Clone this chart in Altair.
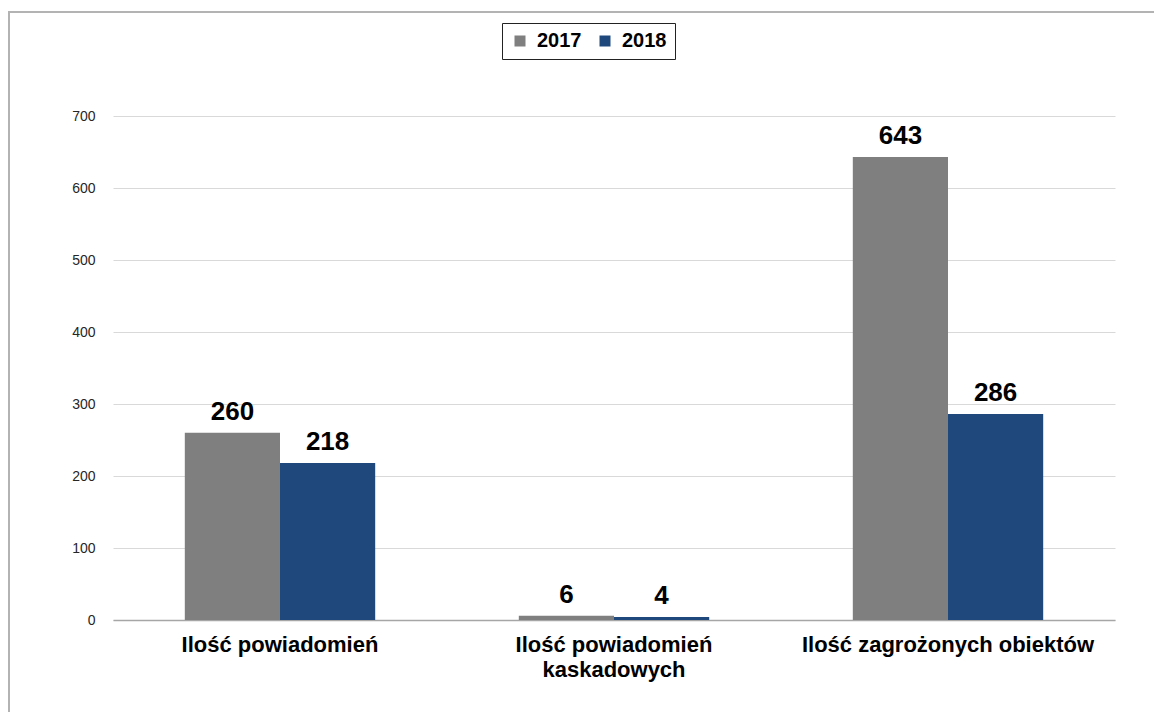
import altair as alt
import pandas as pd

categories = ["Ilość powiadomień", "Ilość powiadomień kaskadowych", "Ilość zagrożonych obiektów"]
years = ["2017", "2018"]
values_2017 = [260, 6, 643]
values_2018 = [218, 4, 286]
colors = ["#7f7f7f", "#1f497d"]
y_ticks = [0, 100, 200, 300, 400, 500, 600, 700]

rows = []
for c, a, b in zip(categories, values_2017, values_2018):
    rows.append({"category": c, "year": "2017", "value": a})
    rows.append({"category": c, "year": "2018", "value": b})
df = pd.DataFrame(rows)

W, H = 1002, 504
PAD = {"left": 105, "top": 108, "right": 39, "bottom": 92}
FONT = "Liberation Sans"

label_expr = ("datum.label == 'Ilość powiadomień kaskadowych' ? "
              "['Ilość powiadomień', 'kaskadowych'] : datum.label")

x_enc = alt.X(
    "category:N", sort=categories, title=None,
    scale=alt.Scale(paddingInner=0.43, paddingOuter=0.215),
    axis=alt.Axis(labelAngle=0, labelFont=FONT, labelFontSize=22, labelFontWeight="bold",
                  labelColor="#000000", labelPadding=14, labelLineHeight=25,
                  ticks=False, domainColor="#a6a6a6", domainWidth=1.5,
                  labelExpr=label_expr, labelLimit=400),
)
y_enc = alt.Y(
    "value:Q", title=None,
    scale=alt.Scale(domain=[0, 700], nice=False),
    axis=alt.Axis(values=y_ticks, domain=False, ticks=False, labelFont=FONT,
                  labelFontSize=14, labelColor="#262626", labelPadding=18,
                  gridColor="#d9d9d9", gridWidth=1),
)
color_enc = alt.Color(
    "year:N", title=None,
    scale=alt.Scale(domain=years, range=colors),
    legend=alt.Legend(orient="none", legendX=389, legendY=-93, direction="horizontal",
                      columns=2, symbolType="square", symbolSize=121,
                      symbolStrokeWidth=0, labelFont=FONT, labelFontSize=20,
                      labelFontWeight="bold", labelColor="#000000", labelOffset=7,
                      columnPadding=13, padding=8, strokeColor="#222222",
                      fillColor="#ffffff"),
)

bars = alt.Chart(df).mark_bar().encode(
    x=x_enc, y=y_enc, color=color_enc,
    xOffset=alt.XOffset("year:N", sort=years),
)

labels = alt.Chart(df).mark_text(
    font=FONT, fontSize=26, fontWeight="bold", color="#000000",
    baseline="alphabetic", dy=-13,
).encode(
    x=alt.X("category:N", sort=categories),
    y="value:Q",
    xOffset=alt.XOffset("year:N", sort=years),
    text="value:Q",
)

frame_df = pd.DataFrame({"a": [0]})
top_edge = alt.Chart(frame_df).mark_rule(color="#b3b3b3", strokeWidth=2).encode(
    x=alt.value(-105), x2=alt.value(W + PAD["right"]), y=alt.value(-104),
)
left_edge = alt.Chart(frame_df).mark_rule(color="#b3b3b3", strokeWidth=2).encode(
    x=alt.value(-104), y=alt.value(-105), y2=alt.value(H + PAD["bottom"]),
)

chart = alt.layer(top_edge, left_edge, bars, labels).properties(
    width=W, height=H,
    autosize=alt.AutoSizeParams(type="none"),
    padding=PAD,
).configure_view(stroke=None)

chart.save("out.html", embed_options={"renderer": "svg", "actions": False})
